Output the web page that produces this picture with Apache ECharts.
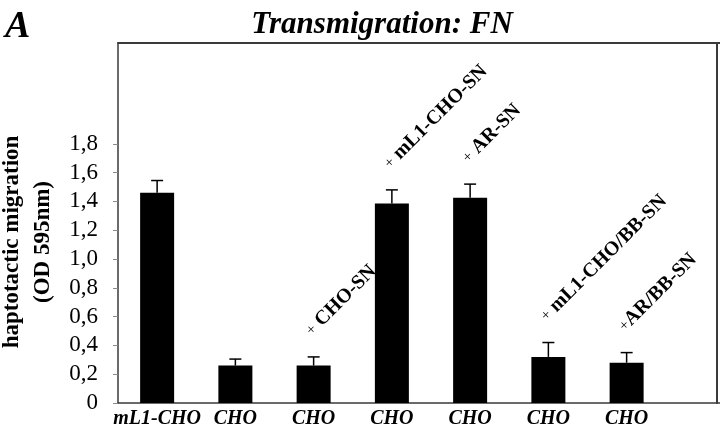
<!DOCTYPE html>
<html>
<head>
<meta charset="utf-8">
<script src="https://cdn.jsdelivr.net/npm/echarts@6/dist/echarts.min.js"></script>
<style>
  html, body { margin: 0; padding: 0; background: #fff; }
  #chart { width: 720px; height: 432px; }
</style>
</head>
<body>
<div id="chart"></div>
<script>
const categories = ['mL1-CHO', 'CHO', 'CHO', 'CHO', 'CHO', 'CHO', 'CHO', '']
const meanValues = [1.46, 0.26, 0.26, 1.385, 1.425, 0.32, 0.28]
const upperValues = [1.545, 0.305, 0.32, 1.48, 1.52, 0.42, 0.35]
const notes = ['', '', 'CHO-SN', 'mL1-CHO-SN', 'AR-SN', 'mL1-CHO/BB-SN', 'AR/BB-SN']
const yTicks = [0, 0.2, 0.4, 0.6, 0.8, 1.0, 1.2, 1.4, 1.6, 1.8]

const serif = 'Liberation Serif, Times New Roman, serif'
const frameColor = '#3a3a3a'
const tickColor = '#8a8a8a'

const fmtTick = (v) => (v === 0 ? '0' : v.toFixed(1).replace('.', ','))

const errorData = meanValues.map((m, i) => [i, m, upperValues[i]])

const renderError = (params, api) => {
  const i = api.value(0)
  const base = api.coord([i, api.value(1)])
  const hi = api.coord([i, api.value(2)])
  const note = notes[params.dataIndex]
  const children = [
    { type: 'line', shape: { x1: base[0], y1: base[1], x2: hi[0], y2: hi[1] }, style: { stroke: '#000', lineWidth: 1.5 } },
    { type: 'line', shape: { x1: hi[0] - 6, y1: hi[1], x2: hi[0] + 6, y2: hi[1] }, style: { stroke: '#000', lineWidth: 1.5 } },
  ]
  if (note) {
    const gap = params.dataIndex === 6 ? '' : ' '
    children.push({
      type: 'text',
      x: hi[0] - 5,
      y: hi[1] - 24,
      rotation: Math.PI / 4,
      style: {
        text: `{p|+}{t|${gap}${note}}`,
        align: 'left',
        verticalAlign: 'middle',
        rich: {
          p: { fontFamily: serif, fontSize: 15, fontWeight: 'normal', fill: '#000' },
          t: { fontFamily: serif, fontSize: 20, fontWeight: 'bold', fill: '#000' },
        },
      },
    })
  }
  return { type: 'group', children }
}

const chart = echarts.init(document.getElementById('chart'))
chart.setOption({
  animation: false,
  backgroundColor: '#fff',
  title: [
    {
      text: 'A',
      left: 5,
      top: 8,
      padding: 0,
      textStyle: { fontFamily: serif, fontStyle: 'italic', fontWeight: 'bold', fontSize: 38, color: '#000' },
    },
    {
      text: 'Transmigration: FN',
      left: 382,
      textAlign: 'center',
      top: 9,
      padding: 0,
      textStyle: { fontFamily: serif, fontStyle: 'italic', fontWeight: 'bold', fontSize: 31, color: '#000' },
    },
  ],
  grid: { left: 118, top: 43, bottom: 29, right: -24, containLabel: false, outerBoundsMode: 'none' },
  xAxis: [
    {
      type: 'category',
      data: categories,
      position: 'bottom',
      axisLine: { onZero: false, lineStyle: { color: frameColor, width: 1.5 } },
      axisTick: { length: 4, lineStyle: { color: tickColor } },
      axisLabel: {
        margin: 6,
        interval: 0,
        fontFamily: serif,
        fontStyle: 'italic',
        fontWeight: 'bold',
        fontSize: 20,
        color: '#000',
      },
    },
    {
      type: 'category',
      data: categories,
      position: 'top',
      axisLine: { onZero: false, lineStyle: { color: frameColor, width: 2 } },
      axisTick: { show: false },
      axisLabel: { show: false },
    },
  ],
  yAxis: [
    {
      type: 'value',
      min: 0,
      max: 2.5,
      splitLine: { show: false },
      axisLine: { show: true, onZero: false, lineStyle: { color: frameColor, width: 1.5 } },
      axisTick: { show: true, length: 5, customValues: yTicks, lineStyle: { color: tickColor } },
      axisLabel: {
        customValues: yTicks,
        formatter: fmtTick,
        margin: 20,
        fontFamily: serif,
        fontSize: 23,
        color: '#000',
      },
      name: 'haptotactic migration\n(OD 595nm)',
      nameLocation: 'middle',
      nameRotate: 90,
      nameGap: 58,
      nameTextStyle: {
        fontFamily: serif,
        fontWeight: 'bold',
        fontSize: 23,
        lineHeight: 31,
        color: '#000',
        padding: [0, 38, 0, 0],
      },
    },
    {
      type: 'value',
      min: 0,
      max: 2.5,
      position: 'right',
      offset: -27,
      splitLine: { show: false },
      axisLine: { show: true, onZero: false, lineStyle: { color: frameColor, width: 2 } },
      axisTick: { show: false },
      axisLabel: { show: false },
    },
  ],
  series: [
    {
      type: 'bar',
      data: meanValues,
      barWidth: 34,
      itemStyle: { color: '#000' },
      z: 2,
    },
    {
      type: 'custom',
      data: errorData,
      renderItem: renderError,
      clip: false,
      z: 3,
    },
  ],
})
</script>
</body>
</html>
